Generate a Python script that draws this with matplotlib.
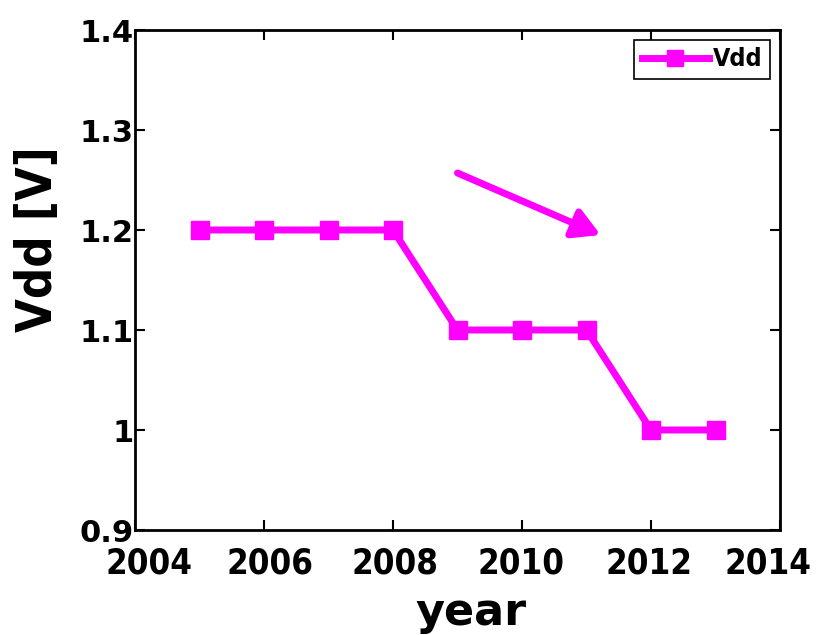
import matplotlib
matplotlib.use("Agg")
from matplotlib import pyplot as plt
from matplotlib.transforms import ScaledTranslation

years = [2005, 2006, 2007, 2008, 2009, 2010, 2011, 2012, 2013]
vdd = [1.2, 1.2, 1.2, 1.2, 1.1, 1.1, 1.1, 1.0, 1.0]
xticks = [2004, 2006, 2008, 2010, 2012, 2014]
yticks = [0.9, 1.0, 1.1, 1.2, 1.3, 1.4]
yticklabels = ['0.9', '1', '1.1', '1.2', '1.3', '1.4']

magenta = '#ff00ff'
plt.rcParams['font.family'] = ['DejaVu Sans']
plt.rcParams['font.weight'] = 'bold'

fig = plt.figure(figsize=(8.19, 6.35), dpi=100)
ax = fig.add_axes([135/819, 105/635, 645/819, 500/635])

ax.plot(years, vdd, color=magenta, lw=5, marker='s', markersize=13,
        label='Vdd')

# arrow showing the downward trend
ax.annotate('', xy=(2011.22, 1.195), xytext=(2009.0, 1.257),
            arrowprops=dict(arrowstyle='-|>,head_length=1.6,head_width=0.9',
                            color=magenta, lw=5, shrinkA=0, shrinkB=0))

ax.set_xlim(2004, 2014)
ax.set_ylim(0.9, 1.4)
ax.set_xticks(xticks)
ax.set_yticks(yticks)
ax.set_yticklabels(yticklabels)
ax.tick_params(direction='in', top=True, right=True, length=7, width=1.5)
ax.tick_params(axis='x', labelsize=25, pad=12)
ax.tick_params(axis='y', labelsize=22, pad=1)
# the x labels in the original sit slightly squeezed together
shifts = [14, 6, 2, -1, -2, -12]
for lab, dx in zip(ax.get_xticklabels(), shifts):
    lab.set_fontweight('bold')
    lab.set_fontstretch('condensed')
    lab.set_transform(lab.get_transform() +
                      ScaledTranslation(dx / 100, 0, fig.dpi_scale_trans))
for lab in ax.get_yticklabels():
    lab.set_fontweight('bold')
for s in ax.spines.values():
    s.set_linewidth(2)

ax.set_xlabel('year', fontsize=32, fontweight='bold', va='baseline')
ax.xaxis.set_label_coords(0.521, -0.19)
ax.set_ylabel('Vdd [V]', fontsize=35, fontweight='bold', fontstretch='condensed')
ax.yaxis.set_label_coords(-0.113, 0.582)

leg = ax.legend(loc='upper right', fontsize=18, handlelength=2.7,
                handletextpad=0.15, borderpad=0.3, fancybox=False,
                framealpha=1, borderaxespad=0.4, markerscale=0.9,
                prop={'size': 18, 'weight': 'bold', 'stretch': 'condensed'})
leg.get_frame().set_edgecolor('black')
leg.get_frame().set_linewidth(1.2)

fig.savefig('out.png', dpi=100)
